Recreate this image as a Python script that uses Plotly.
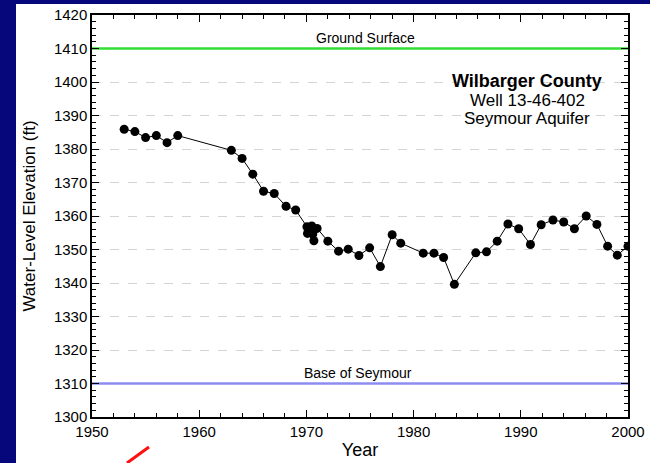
import plotly.graph_objects as go

years = [1953.0, 1954.0, 1955.0, 1956.0, 1957.0, 1958.0,
         1963.0, 1964.0, 1965.0, 1966.0, 1967.0, 1968.1, 1969.0,
         1970.05, 1970.1, 1970.5, 1970.6, 1970.7, 1971.0,
         1972.0, 1973.0, 1973.9, 1974.9, 1975.9, 1976.9, 1978.0, 1978.8,
         1980.9, 1981.9, 1982.8, 1983.8,
         1985.8, 1986.8, 1987.8, 1988.8, 1989.8, 1990.9, 1991.9, 1993.0,
         1994.0, 1995.0, 1996.1, 1997.1, 1998.1, 1999.0, 2000.0]
elev = [1385.9, 1385.2, 1383.4, 1384.0, 1381.9, 1384.0,
        1379.6, 1377.2, 1372.5, 1367.4, 1366.7, 1362.9, 1361.8,
        1356.8, 1354.8, 1357.0, 1354.6, 1352.6, 1356.3,
        1352.5, 1349.5, 1350.1, 1348.2, 1350.5, 1344.9, 1354.4, 1351.9,
        1348.9, 1348.9, 1347.6, 1339.6,
        1349.0, 1349.3, 1352.5, 1357.6, 1356.2, 1351.5, 1357.4, 1358.8,
        1358.2, 1356.2, 1360.0, 1357.5, 1351.0, 1348.3, 1351.0]

ground_surface = 1410
base_seymour = 1310
x_range = [1950, 2000]
y_range = [1300, 1420]

fig = go.Figure()

fig.add_trace(go.Scatter(
    x=x_range, y=[ground_surface, ground_surface], mode="lines",
    line=dict(color="#33dd33", width=2.5), hoverinfo="skip", showlegend=False))
fig.add_trace(go.Scatter(
    x=x_range, y=[base_seymour, base_seymour], mode="lines",
    line=dict(color="#8c8cf0", width=2.5), hoverinfo="skip", showlegend=False))
fig.add_trace(go.Scatter(
    x=years, y=elev, mode="lines+markers",
    line=dict(color="black", width=1),
    marker=dict(color="black", size=9),
    showlegend=False))

font_family = "Liberation Sans, Arial, sans-serif"

fig.add_annotation(x=1975.5, y=ground_surface, yshift=11, text="Ground Surface",
                   showarrow=False, font=dict(family=font_family, size=14, color="black"))
fig.add_annotation(x=1974.8, y=base_seymour, yshift=11, text="Base of Seymour",
                   showarrow=False, font=dict(family=font_family, size=14, color="black"))
fig.add_annotation(x=1990.6, y=1400.2, text="<b>Wilbarger County</b>",
                   showarrow=False, font=dict(family=font_family, size=18, color="black"))
fig.add_annotation(x=1990.6, y=1394.4, text="Well 13-46-402",
                   showarrow=False, font=dict(family=font_family, size=17, color="black"))
fig.add_annotation(x=1990.6, y=1389.0, text="Seymour Aquifer",
                   showarrow=False, font=dict(family=font_family, size=17, color="black"))

# white slide panel
fig.add_shape(type="rect", xref="paper", yref="paper",
              x0=-0.1418, x1=1.05, y0=-0.12, y1=1.0274,
              fillcolor="white", line=dict(width=0), layer="below")
# red decorative slash
fig.add_shape(type="line", xref="paper", yref="paper",
              x0=(127 - 92) / 536, y0=(417 - 463) / 402,
              x1=(149 - 92) / 536, y1=(417 - 447) / 402,
              line=dict(color="#ff1010", width=3))

axis_common = dict(
    showline=True, linecolor="black", linewidth=1.5, mirror="ticks",
    ticks="inside", ticklen=7, tickcolor="black", tickwidth=1.2,
    tickfont=dict(family=font_family, size=15, color="black"),
    zeroline=False, automargin=False,
)

fig.update_xaxes(range=x_range, dtick=10, showgrid=False,
                 minor=dict(dtick=2, ticks="inside", ticklen=4, tickcolor="black", showgrid=False),
                 title=dict(text="Year", font=dict(family=font_family, size=18, color="black"), standoff=5),
                 **axis_common)
fig.update_yaxes(range=y_range, dtick=10, showgrid=True, gridcolor="#d4d4d4", griddash="dash", gridwidth=1,
                 minor=dict(dtick=2, ticks="inside", ticklen=4, tickcolor="black", showgrid=False),
                 title=dict(text="Water-Level Elevation (ft)", font=dict(family=font_family, size=17, color="black"), standoff=14),
                 **axis_common)

fig.update_layout(
    width=650, height=463,
    margin=dict(l=92, r=22, t=15, b=46),
    paper_bgcolor="#07077c", plot_bgcolor="white",
)

fig.write_html("out.html", config={"displayModeBar": False},
               post_script="document.body.style.margin='0';")
